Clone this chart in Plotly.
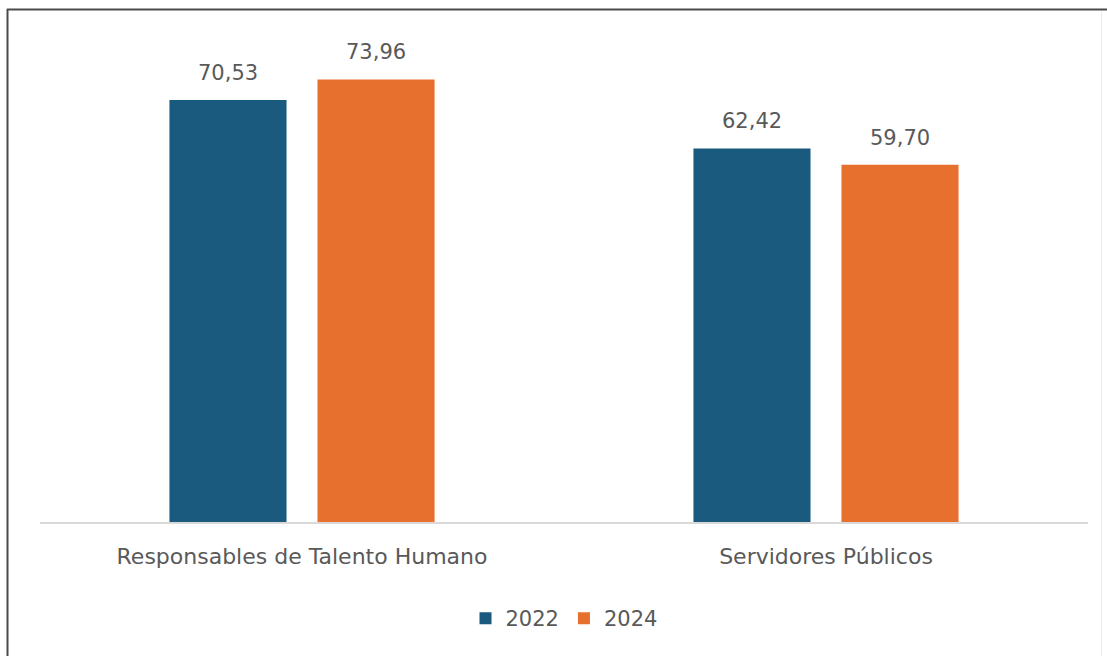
import plotly.graph_objects as go

# Chart data
categories = ["Responsables de Talento Humano", "Servidores Públicos"]
years = ["2022", "2024"]
values_2022 = [70.53, 62.42]
values_2024 = [73.96, 59.70]

colors = {"2022": "#1a5a7e", "2024": "#e8702f"}
text_gray = "#595959"
font_family = "DejaVu Sans"
fsize = 21

W, H = 1107, 656
L, R, T, B = 40, 19, 22, 134
plot_w = W - L - R
plot_h = H - T - B
px_per_unit = 5.984
y_top = plot_h / px_per_unit

fig = go.Figure()
series = {"2022": values_2022, "2024": values_2024}
for yr in years:
    fig.add_trace(go.Bar(
        name=yr,
        x=categories,
        y=series[yr],
        marker=dict(color=colors[yr], line=dict(width=0)),
    ))

# Value labels above each bar
bargap = 0.435
bargroupgap = 0.209
cat_px = plot_w / len(categories)
slot_px = cat_px * (1 - bargap) / 2
annotations = []
for i, yr in enumerate(years):
    shift = (i - 0.5) * slot_px
    for cat, v in zip(categories, series[yr]):
        annotations.append(dict(
            x=cat, y=v, xref="x", yref="y",
            text=f"{v:.2f}".replace(".", ","),
            showarrow=False, xshift=shift, yanchor="bottom", yshift=13,
            font=dict(size=fsize, color=text_gray, family=font_family),
        ))

def px_x(p):
    return (p - L) / plot_w

def px_y(p):
    return (H - B - p) / plot_h

shapes = [
    dict(type="line", xref="paper", yref="paper",
         x0=px_x(7), x1=px_x(1107), y0=px_y(9.5), y1=px_y(9.5),
         line=dict(color="#4a4a4a", width=2)),
    dict(type="line", xref="paper", yref="paper",
         x0=px_x(7.5), x1=px_x(7.5), y0=px_y(9), y1=px_y(656),
         line=dict(color="#4a4a4a", width=2)),
    dict(type="line", xref="paper", yref="paper",
         x0=px_x(1101.5), x1=px_x(1101.5), y0=px_y(11), y1=px_y(656),
         line=dict(color="#ececec", width=1)),
]

fig.update_layout(
    width=W, height=H,
    margin=dict(l=L, r=R, t=T, b=B),
    paper_bgcolor="white", plot_bgcolor="white",
    barmode="group", bargap=bargap, bargroupgap=bargroupgap,
    font=dict(family=font_family, color=text_gray, size=fsize),
    xaxis=dict(showline=True, linecolor="#d9d9d9", linewidth=2,
               ticks="", tickfont=dict(size=22, color=text_gray), ticklabelstandoff=14),
    yaxis=dict(range=[0, y_top], visible=False, showgrid=False),
    legend=dict(orientation="h", x=0.5, xanchor="center", y=px_y(598), yanchor="top",
                font=dict(size=fsize, color=text_gray), itemwidth=30),
    annotations=annotations,
    shapes=shapes,
)

fig.write_html("out.html")
